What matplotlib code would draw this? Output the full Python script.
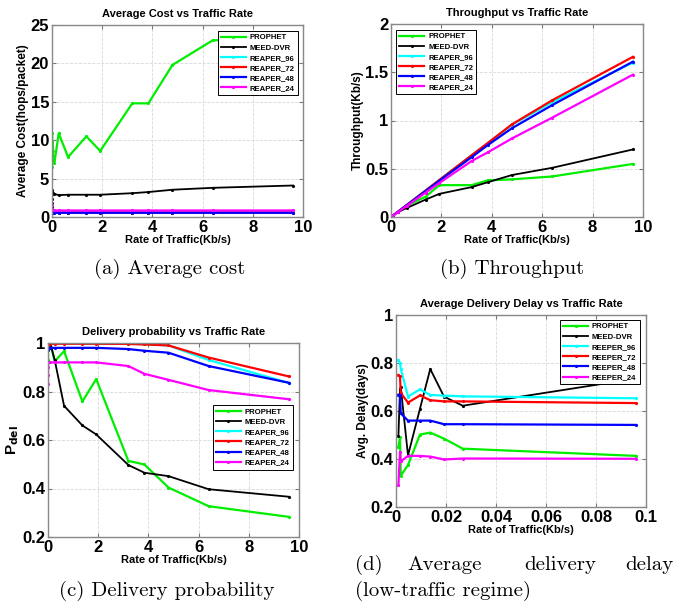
import matplotlib
matplotlib.use('Agg')
import matplotlib.pyplot as plt
from matplotlib.ticker import FormatStrFormatter

plt.rcParams['font.family'] = 'Liberation Sans'
plt.rcParams['font.weight'] = 'bold'
plt.rcParams['axes.labelweight'] = 'bold'
plt.rcParams['axes.titleweight'] = 'bold'
plt.rcParams['mathtext.default'] = 'bf'

# traffic rates (Kb/s)
rate = [0.00096, 0.00192, 0.0048, 0.0096, 0.0137, 0.0192, 0.0267, 0.096,
        0.267, 0.64, 1.37, 1.92, 3.2, 3.84, 4.8, 6.4, 9.6]
rate_low = [0.00096, 0.0016, 0.0019, 0.0048, 0.0096, 0.0137, 0.0192, 0.0267, 0.096]

names = ['PROPHET', 'MEED-DVR', 'REAPER_96', 'REAPER_72', 'REAPER_48', 'REAPER_24']
names_d = ['PROPHET', 'MEED-DVR', 'REEPER_96', 'REEPER_72', 'REEPER_48', 'REEPER_24']
colors = ['#00ee00', 'black', '#00ffff', '#ff0000', '#0000ff', '#ff00ff']

# (a) average cost
cost_prophet = [6.5, 10.9, 8.5, 9.8, 8.0, 9.2, 8.6, 7.0, 10.9, 7.8, 10.5, 8.6, 14.8, 14.8, 19.8, 23.0, 23.4]
cost_meed = [1.3, 1.8, 2.4, 3.0, 3.5, 3.3, 3.1, 3.0, 2.85, 2.9, 2.9, 2.9, 3.1, 3.25, 3.55, 3.8, 4.1]
cost_r96 = [0.9, 0.75, 0.65, 0.62, 0.62, 0.62, 0.62, 0.62, 0.62, 0.62, 0.62, 0.62, 0.62, 0.62, 0.62, 0.62, 0.62]
cost_r72 = [0.8, 0.7, 0.6, 0.58, 0.58, 0.58, 0.58, 0.58, 0.58, 0.58, 0.58, 0.58, 0.58, 0.58, 0.58, 0.58, 0.58]
cost_r48 = [0.7, 0.6, 0.56, 0.55, 0.55, 0.55, 0.55, 0.55, 0.55, 0.55, 0.55, 0.55, 0.55, 0.55, 0.55, 0.55, 0.55]
cost_r24 = [1.5, 1.1, 0.95, 0.9, 0.88, 0.87, 0.86, 0.85, 0.85, 0.85, 0.85, 0.85, 0.85, 0.85, 0.85, 0.85, 0.85]

# (b) throughput
thr_prophet = [0.0002, 0.0004, 0.001, 0.002, 0.003, 0.004, 0.005, 0.018, 0.05, 0.12, 0.21, 0.33, 0.33, 0.38, 0.39, 0.42, 0.55]
thr_meed = [0.0002, 0.0004, 0.001, 0.002, 0.003, 0.004, 0.005, 0.019, 0.05, 0.095, 0.18, 0.24, 0.31, 0.36, 0.435, 0.51, 0.70]
thr_r96 = [0.0002, 0.0004, 0.001, 0.002, 0.003, 0.004, 0.005, 0.019, 0.053, 0.128, 0.274, 0.384, 0.64, 0.765, 0.955, 1.19, 1.60]
thr_r72 = [0.0002, 0.0004, 0.001, 0.002, 0.003, 0.004, 0.005, 0.019, 0.053, 0.128, 0.274, 0.384, 0.64, 0.767, 0.96, 1.21, 1.66]
thr_r48 = [0.0002, 0.0004, 0.001, 0.002, 0.003, 0.004, 0.005, 0.019, 0.052, 0.125, 0.268, 0.376, 0.62, 0.745, 0.92, 1.16, 1.61]
thr_r24 = [0.0002, 0.0003, 0.001, 0.002, 0.003, 0.004, 0.005, 0.018, 0.049, 0.118, 0.252, 0.353, 0.58, 0.67, 0.814, 1.03, 1.475]

# (c) delivery probability
pdel_prophet = [0.93, 0.97, 1.0, 0.98, 1.0, 0.99, 1.0, 1.0, 0.925, 0.966, 0.759, 0.851, 0.514, 0.499, 0.404, 0.327, 0.283]
pdel_meed = [1.0, 1.0, 1.0, 1.0, 1.0, 1.0, 1.0, 0.995, 0.93, 0.741, 0.66, 0.623, 0.497, 0.465, 0.451, 0.397, 0.366]
pdel_r96 = [0.99, 1.0, 1.0, 0.998, 0.998, 0.998, 0.998, 0.998, 0.998, 0.998, 0.998, 0.998, 0.997, 0.995, 0.99, 0.93, 0.835]
pdel_r72 = [0.99, 0.998, 0.998, 0.997, 0.997, 0.997, 0.997, 0.997, 0.997, 0.997, 0.997, 0.997, 0.996, 0.994, 0.99, 0.94, 0.862]
pdel_r48 = [0.97, 0.98, 0.98, 0.98, 0.98, 0.98, 0.98, 0.98, 0.98, 0.98, 0.98, 0.98, 0.975, 0.968, 0.96, 0.905, 0.836]
pdel_r24 = [0.83, 0.87, 0.9, 0.92, 0.92, 0.92, 0.92, 0.92, 0.92, 0.92, 0.92, 0.92, 0.905, 0.873, 0.848, 0.806, 0.768]

# (d) average delay, low traffic
dly_prophet = [0.45, 0.49, 0.33, 0.375, 0.502, 0.51, 0.485, 0.443, 0.413]
dly_meed = [0.495, 0.69, 0.70, 0.415, 0.61, 0.775, 0.66, 0.622, 0.735]
dly_r96 = [0.812, 0.80, 0.776, 0.66, 0.69, 0.667, 0.664, 0.661, 0.653]
dly_r72 = [0.75, 0.745, 0.675, 0.635, 0.665, 0.645, 0.640, 0.640, 0.633]
dly_r48 = [0.668, 0.665, 0.59, 0.56, 0.56, 0.56, 0.545, 0.545, 0.542]
dly_r24 = [0.29, 0.43, 0.39, 0.413, 0.413, 0.41, 0.398, 0.402, 0.401]

W, H = 675, 610
fig = plt.figure(figsize=(W / 100, H / 100), dpi=100)


def make_axes(left, right, top, bottom):
    return fig.add_axes([left / W, 1 - bottom / H, (right - left) / W, (bottom - top) / H])


def style(ax, title, ylabel, xlim, ylim, xticks, yticks):
    ax.set_xlim(xlim)
    ax.set_ylim(ylim)
    ax.set_xticks(xticks)
    ax.set_yticks(yticks)
    ax.xaxis.set_major_formatter(FormatStrFormatter('%g'))
    ax.yaxis.set_major_formatter(FormatStrFormatter('%g'))
    ax.tick_params(direction='in', top=True, right=True, labelsize=12, length=3,
                   color='#777777', pad=2)
    for t in ax.get_xticklabels() + ax.get_yticklabels():
        t.set_fontweight('bold')
    for s in ax.spines.values():
        s.set_color('#888888')
        s.set_linewidth(1.0)
    ax.grid(True, linestyle='--', color='#d8d8d8', linewidth=0.6)
    ax.set_axisbelow(True)
    ax.set_title(title, fontsize=8, pad=6)
    ax.set_xlabel('Rate of Traffic(Kb/s)', fontsize=8, labelpad=0)
    ax.set_ylabel(ylabel, fontsize=8.5, labelpad=1)


def draw(ax, x, series, labels, loc, anchor):
    for i, y in enumerate(series):
        ax.plot(x, y, color=colors[i], linewidth=1.3 if i == 1 else 1.6,
                marker='.', markersize=2.5, label=labels[i])
    leg = ax.legend(loc=loc, bbox_to_anchor=anchor, handlelength=3.2,
                    fancybox=False, framealpha=1, borderpad=0.4, labelspacing=0.35,
                    handletextpad=0.5, prop={'weight': 'bold', 'size': 5.6})
    leg.get_frame().set_edgecolor('black')
    leg.get_frame().set_linewidth(0.7)


# (a)
ax = make_axes(52, 303, 25, 217)
draw(ax, rate, [cost_prophet, cost_meed, cost_r96, cost_r72, cost_r48, cost_r24],
     names, 'upper right', (0.995, 0.99))
style(ax, 'Average Cost vs Traffic Rate', 'Average Cost(hops/packet)',
      (0, 10), (0, 25), [0, 2, 4, 6, 8, 10], [0, 5, 10, 15, 20, 25])

# (b)
ax = make_axes(391, 643, 24, 217)
draw(ax, rate, [thr_prophet, thr_meed, thr_r96, thr_r72, thr_r48, thr_r24],
     names, 'upper left', (0.005, 0.99))
style(ax, 'Throughput vs Traffic Rate', 'Throughput(Kb/s)',
      (0, 10), (0, 2), [0, 2, 4, 6, 8, 10], [0, 0.5, 1, 1.5, 2])

# (c)
ax = make_axes(48, 299, 343, 537)
draw(ax, rate, [pdel_prophet, pdel_meed, pdel_r96, pdel_r72, pdel_r48, pdel_r24],
     names, 'upper right', (0.99, 0.7))
style(ax, 'Delivery probability vs Traffic Rate', r'P$_{\mathbf{del}}$',
      (0, 10), (0.2, 1), [0, 2, 4, 6, 8, 10], [0.2, 0.4, 0.6, 0.8, 1])
ax.yaxis.label.set_size(11)

# (d)
ax = make_axes(396, 646, 315, 507)
draw(ax, rate_low, [dly_prophet, dly_meed, dly_r96, dly_r72, dly_r48, dly_r24],
     names_d, 'upper right', (0.99, 0.995))
style(ax, 'Average Delivery Delay vs Traffic Rate', 'Avg. Delay(days)',
      (0, 0.1), (0.2, 1), [0, 0.02, 0.04, 0.06, 0.08, 0.1], [0.2, 0.4, 0.6, 0.8, 1])

# sub-captions
cap = dict(fontfamily='cmr10', fontsize=15, fontweight='normal', va='center')
fig.text(170 / W, 1 - 269 / H, '(a) Average cost', ha='center', **cap)
fig.text(512 / W, 1 - 269 / H, '(b) Throughput', ha='center', **cap)
fig.text(167 / W, 1 - 591 / H, '(c) Delivery probability', ha='center', **cap)
fig.text(355 / W, 1 - 565 / H, '(d)', ha='left', **cap)
fig.text(407 / W, 1 - 565 / H, 'Average', ha='left', **cap)
fig.text(524 / W, 1 - 565 / H, 'delivery', ha='left', **cap)
fig.text(673 / W, 1 - 565 / H, 'delay', ha='right', **cap)
fig.text(355 / W, 1 - 591 / H, '(low-traffic regime)', ha='left', **cap)

fig.savefig('out.png', dpi=100)
